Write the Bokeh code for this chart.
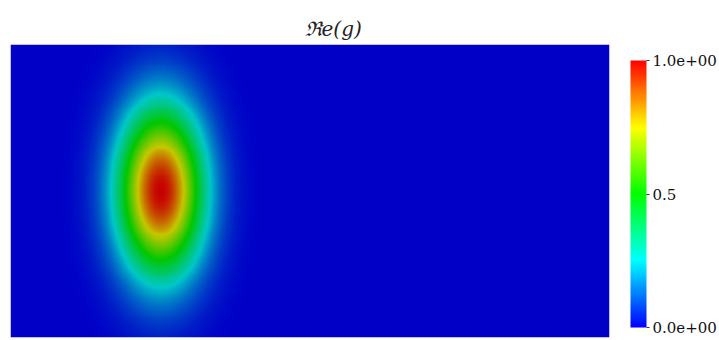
import numpy as np
from bokeh.plotting import figure
from bokeh.models import LinearColorMapper, ColorBar, FixedTicker, CustomJSTickFormatter
from bokeh.embed import file_html
from bokeh.resources import INLINE

# ---- data ----
x_bounds = [0.0, 2.0]
y_bounds = [0.0, 1.0]
peak_center = [0.5, 0.5]
peak_sigma = [0.1, 0.2]
peak_amplitude = 1.0
grid_cols = 600
grid_rows = 300

color_stops = [0.0, 0.25, 0.5, 0.75, 1.0]
stop_r = [0, 0, 0, 255, 255]
stop_g = [0, 255, 255, 255, 0]
stop_b = [255, 255, 0, 0, 0]
image_shade = 0.78

cbar_ticks = [0.0, 0.5, 1.0]
cbar_labels = ["0.0e+00", "0.5", "1.0e+00"]
title_text = "ℜe(g)"

# ---- field ----
xs = np.linspace(x_bounds[0], x_bounds[1], grid_cols)
ys = np.linspace(y_bounds[0], y_bounds[1], grid_rows)
X, Y = np.meshgrid(xs, ys)
Z = peak_amplitude * np.exp(-((X - peak_center[0]) ** 2) / (2 * peak_sigma[0] ** 2)
                            - ((Y - peak_center[1]) ** 2) / (2 * peak_sigma[1] ** 2))

def make_palette(shade):
    t = np.linspace(0, 1, 256)
    r = np.interp(t, color_stops, stop_r) * shade
    g = np.interp(t, color_stops, stop_g) * shade
    b = np.interp(t, color_stops, stop_b) * shade
    return ["#%02x%02x%02x" % (int(round(a)), int(round(c)), int(round(d))) for a, c, d in zip(r, g, b)]

img_mapper = LinearColorMapper(palette=make_palette(image_shade), low=0.0, high=1.0)
bar_mapper = LinearColorMapper(palette=make_palette(1.0), low=0.0, high=1.0)

p = figure(frame_width=599, frame_height=293, output_backend="svg", toolbar_location=None,
           x_range=tuple(x_bounds), y_range=tuple(y_bounds),
           min_border_left=10, min_border_right=0, min_border_top=44, min_border_bottom=1)
p.axis.visible = False
p.grid.visible = False
p.outline_line_color = None
p.background_fill_color = "white"

p.image(image=[Z], x=x_bounds[0], y=y_bounds[0],
        dw=x_bounds[1] - x_bounds[0], dh=y_bounds[1] - y_bounds[0], color_mapper=img_mapper)

p.title.text = title_text
p.title.text_font = "DejaVu Serif"
p.title.text_font_size = "20px"
p.title.text_font_style = "italic"
p.title.text_color = "#222222"
p.title.align = "left"
p.title.offset = 294
p.title.standoff = 7

fmt = CustomJSTickFormatter(args=dict(tick_vals=cbar_ticks, tick_text=cbar_labels),
                            code="const i = tick_vals.indexOf(tick); return i >= 0 ? tick_text[i] : '';")

cb = ColorBar(color_mapper=bar_mapper, ticker=FixedTicker(ticks=cbar_ticks), formatter=fmt,
              location=(21, 10),
              width=16, height=267, padding=0, margin=0, label_standoff=3,
              major_tick_in=0, major_tick_out=3, major_tick_line_color="#333333",
              minor_tick_line_color=None, bar_line_color=None, border_line_color=None,
              background_fill_alpha=0,
              major_label_text_font="DejaVu Serif", major_label_text_font_size="15px",
              major_label_text_color="#111111")
p.add_layout(cb, "right")

open("out.html", "w").write(file_html(p, INLINE))
